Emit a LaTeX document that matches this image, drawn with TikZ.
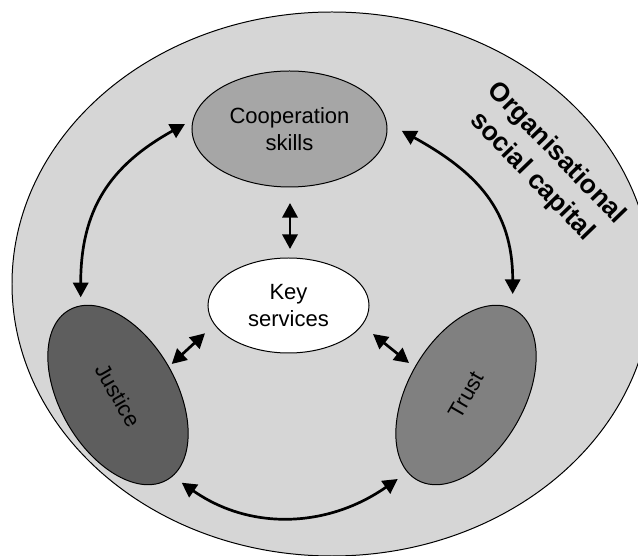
\documentclass[tikz,border=0pt]{standalone}
\usepackage{fontspec}
\setmainfont{Liberation Sans}
\usetikzlibrary{arrows.meta,shapes.geometric}
\begin{document}
\begin{tikzpicture}[x=0.03cm,y=0.03cm,
  blob/.style={ellipse,draw,line width=0.85pt,inner sep=0pt,align=center,
    font=\fontsize{18.8}{23}\selectfont},
  link/.style={{Triangle[length=12.5pt,width=13pt]}-{Triangle[length=12.5pt,width=13pt]},
    line width=2.3pt}]
  \useasboundingbox (0,0) rectangle (638,556);
  \clip (0,0) rectangle (638,556);
  % outer field
  \draw[fill=black!16,line width=0.85pt] (332,272) ellipse [x radius=320,y radius=272];
  \node[rotate=-46,align=center,font=\bfseries\fontsize{22.6}{29}\selectfont] (osc) at (544,391) {Organisational\\social capital};
  % the four ellipses
  \node[blob,fill=black!35,minimum width=5.85cm,minimum height=3.48cm] (coop) at (289.5,427) {Cooperation\\skills};
  \node[blob,fill=white,minimum width=4.83cm,minimum height=2.85cm] (key) at (288.5,250.5) {Key\\services};
  \node[blob,fill=black!63,minimum width=5.88cm,minimum height=3.48cm,rotate=-60] (just) at (118,161) {Justice};
  \node[blob,fill=black!50,minimum width=5.88cm,minimum height=3.48cm,rotate=60] (trust) at (466,161) {Trust};
  % arrow ends
  \coordinate (cw) at ([shift={(-104.5,5)}]coop.center);
  \coordinate (ce) at ([shift={(112.2,-1.7)}]coop.center);
  \coordinate (cs) at ([shift={(0.5,-74)}]coop.center);
  \coordinate (kn) at ([shift={(1.5,56.5)}]key.center);
  \coordinate (kw) at ([shift={(-83.5,-27.8)}]key.center);
  \coordinate (ke) at ([shift={(84.5,-28.5)}]key.center);
  \coordinate (jn) at ([shift={(-37.3,97.7)}]just.center);
  \coordinate (je) at ([shift={(53.7,31)}]just.center);
  \coordinate (js) at ([shift={(63.7,-87.7)}]just.center);
  \coordinate (tn) at ([shift={(46.7,101)}]trust.center);
  \coordinate (tw) at ([shift={(-57,32)}]trust.center);
  \coordinate (ts) at ([shift={(-68.3,-84)}]trust.center);
  % arrows
  \draw[link] (jn) to[out=90,in=209,looseness=1.1] (cw);
  \draw[link] (tn) to[out=90,in=-29,looseness=1.1] (ce);
  \draw[link] (js) to[out=-35,in=215] (ts);
  \draw[link] (cs) -- (kn);
  \draw[link] (kw) -- (je);
  \draw[link] (ke) -- (tw);
\end{tikzpicture}
\end{document}
